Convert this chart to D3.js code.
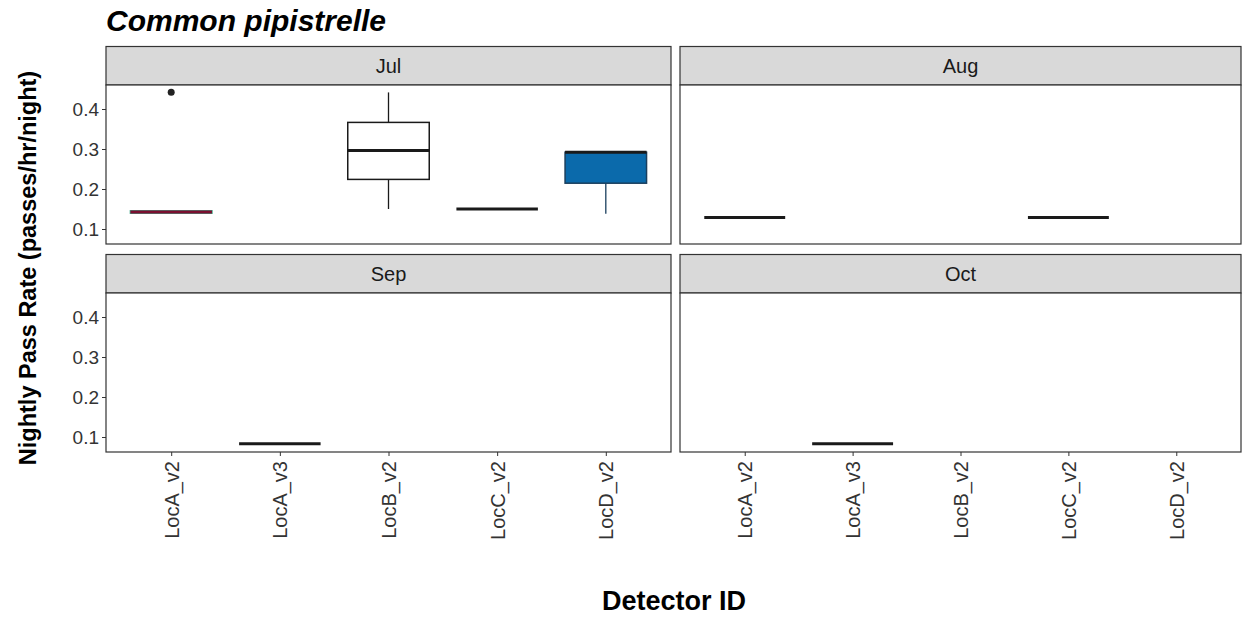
<!DOCTYPE html>
<html>
<head>
<meta charset="utf-8">
<script src="https://cdn.jsdelivr.net/npm/d3@7"></script>
<style>
  body { margin: 0; background: #fff; }
  text { font-family: "Liberation Sans", Arial, sans-serif; }
</style>
</head>
<body>
<div id="chart"></div>
<script>
// facet months and detectors on the x axis
const months = ["Jul", "Aug", "Sep", "Oct"];
const detectors = ["LocA_v2", "LocA_v3", "LocB_v2", "LocC_v2", "LocD_v2"];
const yTicks = [0.1, 0.2, 0.3, 0.4];

// box statistics, one entry per box
const boxMonth    = ["Jul",    "Jul",    "Jul",    "Jul",    "Aug",    "Aug",    "Sep",    "Oct"];
const boxDetector = ["LocA_v2","LocB_v2","LocC_v2","LocD_v2","LocA_v2","LocC_v2","LocA_v3","LocA_v3"];
const boxMin      = [0.1425, 0.150, 0.150, 0.138, 0.129, 0.129, 0.083, 0.083];
const boxQ1       = [0.1395, 0.224, 0.150, 0.2145, 0.129, 0.129, 0.083, 0.083];
const boxMedian   = [0.1425, 0.296, 0.150, 0.292, 0.129, 0.129, 0.083, 0.083];
const boxQ3       = [0.1455, 0.3665, 0.150, 0.292, 0.129, 0.129, 0.083, 0.083];
const boxMax      = [0.1425, 0.4415, 0.150, 0.292, 0.129, 0.129, 0.083, 0.083];

// outlier points
const outMonth = ["Jul"];
const outDetector = ["LocA_v2"];
const outValue = [0.442];

const boxes = boxMonth.map((m, i) => ({
  month: m, det: boxDetector[i], min: boxMin[i], q1: boxQ1[i],
  med: boxMedian[i], q3: boxQ3[i], max: boxMax[i]
}));
const outliers = outMonth.map((m, i) => ({month: m, det: outDetector[i], v: outValue[i]}));

// look of each box
function boxStyle(d) {
  if (d.month === "Jul" && d.det === "LocA_v2") return {fill: "#8a1538", stroke: "#3aa585", med: "#7a0f30"};
  if (d.month === "Jul" && d.det === "LocD_v2") return {fill: "#0b6aab", stroke: "#1b3f5e", med: "#1a1a1a"};
  return {fill: "#ffffff", stroke: "#1a1a1a", med: "#1a1a1a"};
}

const W = 1243, H = 619;
const colLeft = [106, 680], colRight = [671, 1241];
const stripTop = [46.5, 254.5], stripH = 38.5, panelH = 159;

const svg = d3.select("#chart").append("svg")
  .attr("width", W).attr("height", H);

// title
svg.append("text")
  .attr("x", 106).attr("y", 31)
  .style("font-size", "30px").style("font-weight", "bold").style("font-style", "italic")
  .attr("fill", "#000")
  .text("Common pipistrelle");

months.forEach((month, mi) => {
  const col = mi % 2, row = Math.floor(mi / 2);
  const left = colLeft[col], right = colRight[col];
  const sTop = stripTop[row];
  const pTop = sTop + stripH, pBot = pTop + panelH;

  // ggplot discrete expansion of 0.6 per side
  const xc = d3.scalePoint().domain(detectors).range([left, right]).padding(0.6);
  const step = xc.step();
  const y = d3.scaleLinear().domain([0.0625, 0.46]).range([pBot, pTop]);

  const g = svg.append("g");

  // strip
  g.append("rect")
    .attr("x", left).attr("y", sTop).attr("width", right - left).attr("height", stripH)
    .attr("fill", "#d9d9d9").attr("stroke", "#333").attr("stroke-width", 1.2);
  g.append("text")
    .attr("x", (left + right) / 2).attr("y", sTop + stripH / 2 + 7)
    .attr("text-anchor", "middle").style("font-size", "20px").attr("fill", "#1a1a1a")
    .text(month);

  // panel
  g.append("rect")
    .attr("x", left).attr("y", pTop).attr("width", right - left).attr("height", panelH)
    .attr("fill", "#fff").attr("stroke", "#333").attr("stroke-width", 1.2);

  // y axis on left column only
  if (col === 0) {
    const ya = g.append("g").attr("transform", `translate(${left},0)`)
      .call(d3.axisLeft(y).tickValues(yTicks).tickFormat(d3.format(".1f")).tickSize(4).tickPadding(3));
    ya.select(".domain").remove();
    ya.selectAll("line").attr("stroke", "#333");
    ya.selectAll("text").style("font-size", "19px").attr("fill", "#333");
  }

  // x axis on bottom row
  if (row === 1) {
    const xa = g.append("g").attr("transform", `translate(0,${pBot})`)
      .call(d3.axisBottom(xc).tickSize(4).tickPadding(0));
    xa.select(".domain").remove();
    xa.selectAll("line").attr("stroke", "#333");
    xa.selectAll("text")
      .style("font-size", "20px").attr("fill", "#333")
      .attr("text-anchor", "end")
      .attr("transform", "rotate(-90)")
      .attr("x", -9).attr("y", 0).attr("dy", "0.35em");
  }

  // boxes
  const bw = step * 0.75;
  const data = boxes.filter(d => d.month === month);
  const bg = g.selectAll(".box").data(data).enter().append("g");
  bg.append("line")
    .attr("x1", d => xc(d.det)).attr("x2", d => xc(d.det))
    .attr("y1", d => y(d.max)).attr("y2", d => y(d.q3))
    .attr("stroke", d => boxStyle(d).stroke).attr("stroke-width", 1.3);
  bg.append("line")
    .attr("x1", d => xc(d.det)).attr("x2", d => xc(d.det))
    .attr("y1", d => y(d.q1)).attr("y2", d => y(d.min))
    .attr("stroke", d => boxStyle(d).stroke).attr("stroke-width", 1.3);
  bg.append("rect")
    .attr("x", d => xc(d.det) - bw / 2).attr("width", bw)
    .attr("y", d => y(d.q3)).attr("height", d => y(d.q1) - y(d.q3))
    .attr("fill", d => boxStyle(d).fill).attr("stroke", d => boxStyle(d).stroke).attr("stroke-width", 1.5);
  bg.append("line")
    .attr("x1", d => xc(d.det) - bw / 2).attr("x2", d => xc(d.det) + bw / 2)
    .attr("y1", d => y(d.med)).attr("y2", d => y(d.med))
    .attr("stroke", d => boxStyle(d).med)
    .attr("stroke-width", 3);

  g.selectAll(".out").data(outliers.filter(d => d.month === month)).enter()
    .append("circle")
    .attr("cx", d => xc(d.det)).attr("cy", d => y(d.v)).attr("r", 3.5)
    .attr("fill", "#222");
});

// axis titles
svg.append("text")
  .attr("x", 674).attr("y", 610)
  .attr("text-anchor", "middle")
  .style("font-size", "27px").style("font-weight", "bold")
  .text("Detector ID");

svg.append("text")
  .attr("transform", "translate(36,268) rotate(-90)")
  .attr("text-anchor", "middle")
  .style("font-size", "23.5px").style("font-weight", "bold")
  .text("Nightly Pass Rate (passes/hr/night)");
</script>
</body>
</html>
